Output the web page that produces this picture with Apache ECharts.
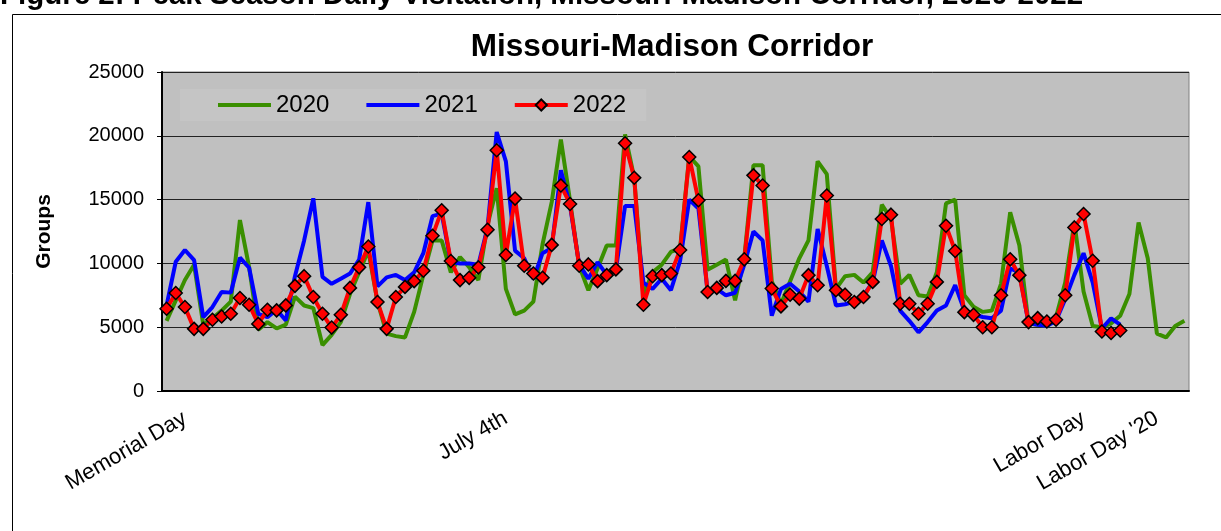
<!DOCTYPE html>
<html>
<head>
<meta charset="utf-8">
<script src="https://cdn.jsdelivr.net/npm/echarts@6/dist/echarts.min.js"></script>
<style>
html,body{margin:0;padding:0;background:#fff;}
#chart{width:1221px;height:531px;}
</style>
</head>
<body>
<div id="chart"></div>
<script>
// Category labels (one slot per day; most are blank)
const labelSlots = {2: 'Memorial Day', 37: 'July 4th', 100: 'Labor Day', 108: "Labor Day '20"};
const dayCount = 112;
const categories = [];
for (let i = 0; i < dayCount; i++) categories.push(labelSlots[i] || '');

const yTicks = [0, 5000, 10000, 15000, 20000, 25000];

const series2020 = [5500,7100,8700,9900,5200,5700,6300,7000,13400,9700,
  4800,5400,4900,5200,7400,6700,6500,3600,4400,5400,
  7600,9300,11000,7000,4500,4300,4200,6200,9100,11800,
  11800,9300,10500,9700,8700,13000,15900,8000,6000,6300,
  7000,11500,14800,19700,14900,9800,7900,9600,11400,11400,
  20100,16700,7500,9300,9900,10900,11200,18400,17600,9500,
  9900,10300,7100,10400,17700,17700,8600,6800,8600,10400,
  11800,18000,17000,8000,9000,9100,8500,9300,14600,13500,
  8400,9100,7500,7400,9300,14700,15000,7500,6600,6200,
  6300,8400,14000,11400,5300,5200,5100,5800,8500,13200,
  7800,5100,5000,5300,5900,7600,13200,10400,4500,4200,
  5100,5500];

const series2021 = [6710,10130,11050,10260,5790,6580,7760,7710,10450,9660,
  6050,5790,6370,5530,9000,11800,15100,8950,8400,8800,
  9200,10300,14800,8200,8900,9100,8700,9300,10800,13700,
  13900,10100,10000,10000,9900,12800,20300,18000,11000,10400,
  8800,10800,11200,17300,14500,9900,8800,10100,9100,9500,
  14500,14500,8500,8000,8800,7900,10200,15000,14300,7800,
  8000,7500,7700,9900,12500,11800,5900,8000,8400,7800,
  7000,12700,9800,6700,6800,7000,7500,8500,11800,9800,
  6300,5500,4600,5400,6300,6700,8300,6300,6000,5800,
  5700,6300,9600,9300,5300,5200,5100,5500,7200,9100,
  10800,8500,4900,5700,5200];

const series2022 = [6450,7680,6580,4870,4870,5580,5840,6050,7290,6760,
  5260,6370,6320,6710,8240,9000,7370,6050,4970,5970,
  8080,9690,11320,6970,4870,7370,8160,8610,9420,12160,
  14160,10190,8690,8870,9690,12630,18870,10660,15080,9820,
  9210,8870,11450,16110,14660,9820,9920,8610,9080,9530,
  19420,16710,6760,9000,9080,9210,11050,18340,14950,7760,
  8080,8630,8630,10320,16900,16110,8030,6630,7550,7240,
  9080,8290,15320,7900,7550,6970,7370,8550,13480,13820,
  6840,6840,6050,6840,8550,12950,10970,6180,5970,5000,
  5000,7500,10320,9080,5400,5710,5450,5580,7500,12820,
  13870,10210,4660,4550,4740];

const FONT = 'Liberation Sans, Arial, sans-serif';
const hiddenSymbol = {opacity: 0};

const chart = echarts.init(document.getElementById('chart'), null, {renderer: 'canvas'});
chart.setOption({
  animation: false,
  backgroundColor: '#ffffff',
  graphic: [
    {type: 'rect', shape: {x: 12.5, y: 14.5, width: 1400, height: 700},
     style: {fill: 'none', stroke: '#000', lineWidth: 1}, silent: true},
    {type: 'text', x: 0, y: -19,
     style: {text: 'Figure 2: Peak Season Daily Visitation, Missouri-Madison Corridor, 2020-2022',
             font: 'bold 29.5px ' + FONT, fill: '#000'}},
    {type: 'text', x: 672, y: 47,
     style: {text: 'Missouri-Madison Corridor', font: 'bold 31.5px ' + FONT, fill: '#000',
             textAlign: 'center', textVerticalAlign: 'middle'}}
  ],
  grid: {left: 162, right: 32, top: 72, bottom: 140, show: true,
         backgroundColor: '#C0C0C0', borderColor: '#808080', borderWidth: 1},
  legend: {
    left: 180, top: 89, itemWidth: 53, itemHeight: 14, itemGap: 35,
    padding: [4, 20, 4, 36],
    backgroundColor: '#C5C5C5',
    lineStyle: {width: 4},
    textStyle: {fontSize: 24, fontFamily: FONT, color: '#000'},
    data: [
      {name: '2020', itemStyle: hiddenSymbol},
      {name: '2021', itemStyle: hiddenSymbol},
      {name: '2022'}
    ]
  },
  xAxis: {
    type: 'category', data: categories, boundaryGap: true,
    axisLine: {show: true, lineStyle: {color: '#000', width: 2}},
    axisTick: {show: false},
    splitLine: {show: false},
    axisLabel: {interval: 0, rotate: 30, fontSize: 22, fontFamily: FONT, color: '#000', margin: 26}
  },
  yAxis: {
    type: 'value', min: yTicks[0], max: yTicks[yTicks.length - 1], interval: yTicks[1] - yTicks[0],
    name: 'Groups', nameLocation: 'middle', nameGap: 107, nameRotate: 90,
    nameTextStyle: {fontSize: 21, fontWeight: 'bold', fontFamily: FONT, color: '#000'},
    axisLine: {show: true, lineStyle: {color: '#000', width: 2}},
    axisTick: {show: true, length: 5, lineStyle: {color: '#000'}},
    splitLine: {show: true, lineStyle: {color: '#222', width: 1}},
    axisLabel: {fontSize: 20, fontFamily: FONT, color: '#000', margin: 18,
                formatter: function (v) { return String(v); }}
  },
  series: [
    {name: '2020', type: 'line', data: series2020, symbol: 'none',
     lineStyle: {color: '#3A8F00', width: 4}, itemStyle: {color: '#3A8F00'}},
    {name: '2021', type: 'line', data: series2021, symbol: 'none',
     lineStyle: {color: '#0000FF', width: 4}, itemStyle: {color: '#0000FF'}},
    {name: '2022', type: 'line', data: series2022, symbol: 'diamond', symbolSize: 13,
     lineStyle: {color: '#FF0000', width: 4},
     itemStyle: {color: '#FF0000', borderColor: '#000', borderWidth: 1.5}}
  ]
});
</script>
</body>
</html>
